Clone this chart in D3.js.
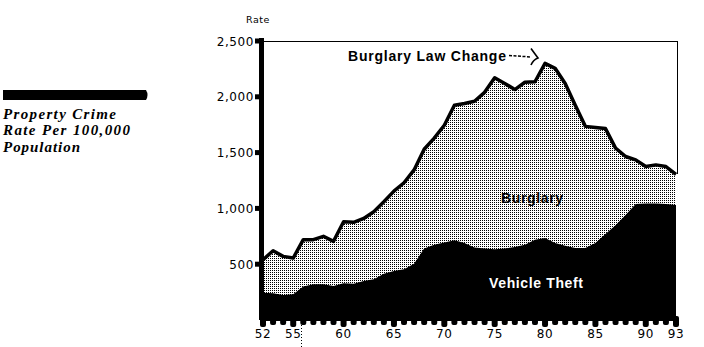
<!DOCTYPE html>
<html><head><meta charset="utf-8">
<script src="https://cdn.jsdelivr.net/npm/d3@7"></script>
<style>body{margin:0;background:#fff}svg{display:block}</style>
</head><body>
<svg id="c" width="704" height="347"></svg>
<script>
const years = d3.range(1952, 1994);
const totalRate = [540,620,570,555,720,720,750,705,880,875,910,970,1060,1155,1230,1345,1530,1630,1745,1925,1940,1960,2040,2170,2120,2065,2130,2135,2300,2255,2120,1925,1735,1725,1715,1540,1465,1435,1375,1390,1375,1305];
const vehicleTheft = [245,240,225,230,300,320,320,305,330,325,350,365,415,440,455,505,640,675,695,715,690,650,640,635,640,655,675,720,735,690,665,645,645,690,770,850,940,1040,1045,1045,1040,1030];
const yTicks = [500,1000,1500,2000,2500];
const xTickLabels = [1952,1955,1960,1965,1970,1975,1980,1985,1990,1993];
const legendLines = ["Property Crime","Rate Per 100,000","Population"];
const legendWidths = [113,127,77];

const svg = d3.select("#c");
const x = d3.scaleLinear().domain([1952,1993]).range([263,676]);
const y = d3.scaleLinear().domain([0,2500]).range([320,41]);

const defs = svg.append("defs");
const pat = defs.append("pattern").attr("id","stip").attr("patternUnits","userSpaceOnUse")
  .attr("width",2).attr("height",2);
pat.append("rect").attr("width",2).attr("height",2).attr("fill","#fff");
pat.append("rect").attr("width",1).attr("height",1).attr("fill","#000").attr("shape-rendering","crispEdges");

const data = years.map((yr,i)=>({yr, t: totalRate[i], v: vehicleTheft[i]}));
const last = data[data.length-1];

// frame
svg.append("path").attr("d",`M${x(1952)},${y(2500)}H${x(1993)+1}V${y(last.t)}`)
  .attr("fill","none").attr("stroke","#000").attr("stroke-width",1).attr("shape-rendering","crispEdges");

// burglary (stipple) area
svg.append("path").datum(data)
  .attr("d", d3.area().x(d=>x(d.yr)).y0(y(0)-1).y1(d=>y(d.t)))
  .attr("fill","url(#stip)");
// vehicle theft area
svg.append("path").datum(data)
  .attr("d", d3.area().x(d=>x(d.yr)).y0(y(0)-1).y1(d=>y(d.v)))
  .attr("fill","#000");
// total line
svg.append("path").datum(data)
  .attr("d", d3.line().x(d=>x(d.yr)).y(d=>y(d.t)))
  .attr("fill","none").attr("stroke","#000").attr("stroke-width",3.5).attr("stroke-linejoin","round");

// bottom tabs
svg.append("g").selectAll("rect").data(years).join("rect")
  .attr("x", d=>x(d)-3).attr("width",6)
  .attr("y", y(0)-4)
  .attr("height", d=> xTickLabels.includes(d) ? 11 : 9)
  .attr("rx",2).attr("fill","#000");
svg.append("rect").attr("x",x(1952)).attr("y",y(0)-3).attr("width",x(1993)-x(1952)+1).attr("height",4).attr("fill","#000");

// dotted line
svg.append("line").attr("x1",Math.round(x(1955.8))+0.5).attr("x2",Math.round(x(1955.8))+0.5)
  .attr("y1",322).attr("y2",347).attr("stroke","#000").attr("stroke-dasharray","1,2");

// y axis bar
svg.append("rect").attr("x",259).attr("y",y(2500)-3).attr("width",5).attr("height",y(0)-y(2500)+3).attr("fill","#000");
const yg = svg.append("g");
yg.selectAll("rect").data(yTicks).join("rect")
  .attr("x",255).attr("y",d=>y(d)-2.5).attr("width",5).attr("height",5).attr("fill","#000");
yg.selectAll("text").data(yTicks).join("text")
  .attr("x",254).attr("y",d=>y(d)+4.5).attr("text-anchor","end")
  .attr("font-family","DejaVu Sans").attr("font-size",12).attr("letter-spacing",0.6)
  .text(d=>d3.format(",")(d));
svg.append("text").attr("x",258).attr("y",23).attr("text-anchor","middle")
  .attr("font-family","DejaVu Sans").attr("font-size",9.5).attr("letter-spacing",0.5).text("Rate");

// x labels
svg.append("g").selectAll("text").data(xTickLabels).join("text")
  .attr("x",d=>x(d)).attr("y",338).attr("text-anchor","middle")
  .attr("font-family","DejaVu Sans").attr("font-size",12).attr("letter-spacing",0.6)
  .text(d=>String(d).slice(2));

// annotations
svg.append("text").attr("x",348).attr("y",61)
  .attr("font-family","Liberation Sans").attr("font-weight","bold").attr("font-size",14)
  .attr("textLength",158).attr("lengthAdjust","spacing")
  .text("Burglary Law Change");
svg.append("path").attr("d","M509,55.5L531,57").attr("stroke","#000").attr("stroke-width",1.5).attr("stroke-dasharray","3,1.5").attr("fill","none");
svg.append("path").attr("d","M531,48.5Q535,54 538,58Q533,60 531,65").attr("stroke","#000").attr("stroke-width",1.6).attr("fill","none");

svg.append("text").attr("x",532).attr("y",203).attr("text-anchor","middle")
  .attr("font-family","Liberation Sans").attr("font-weight","bold").attr("font-size",14)
  .attr("textLength",62).attr("lengthAdjust","spacing").text("Burglary");
svg.append("text").attr("x",536).attr("y",288).attr("text-anchor","middle")
  .attr("font-family","Liberation Sans").attr("font-weight","bold").attr("font-size",14)
  .attr("fill","#fff").attr("textLength",94).attr("lengthAdjust","spacing").text("Vehicle Theft");

// legend
svg.append("path").attr("d","M3,90H146Q149,95 146,100H3Z").attr("fill","#000");
svg.append("g").selectAll("text").data(legendLines).join("text")
  .attr("x",3).attr("y",(d,i)=>118.5+i*16.5)
  .attr("font-family","Liberation Serif").attr("font-weight","bold").attr("font-style","italic")
  .attr("font-size",15)
  .attr("textLength",(d,i)=>legendWidths[i]).attr("lengthAdjust","spacing")
  .text(d=>d);
</script>
</body></html>
